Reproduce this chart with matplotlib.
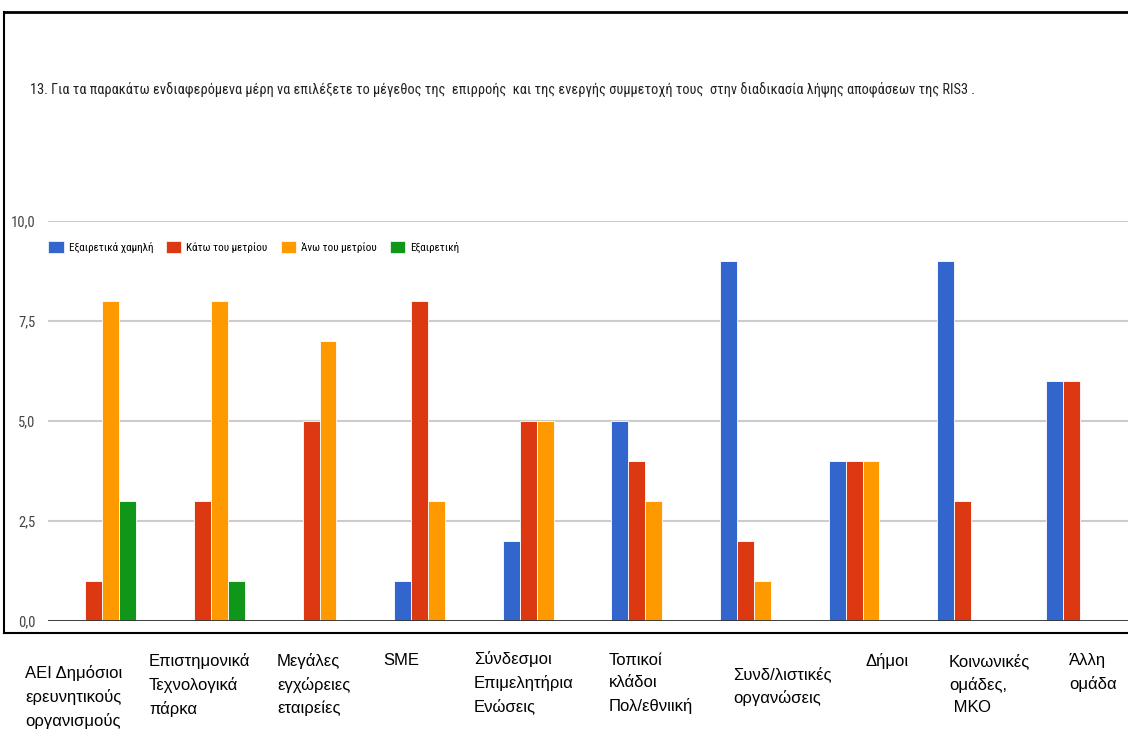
import numpy as np
import matplotlib
matplotlib.use('Agg')
import matplotlib.pyplot as plt
from matplotlib.patches import Patch
from matplotlib.lines import Line2D

# ---------------------------------------------------------------------------- #
#                                     DATA                                     #
# ---------------------------------------------------------------------------- #
title = ('13. Για τα παρακάτω ενδιαφερόμενα μέρη να επιλέξετε το μέγεθος της  '
         'επιρροής  και της ενεργής συμμετοχή τους  στην διαδικασία λήψης '
         'αποφάσεων της RIS3 .')

categories = ['ΑΕΙ Δημόσιοι\nερευνητικούς\nοργανισμούς',
              'Επιστημονικά\nΤεχνολογικά\nπάρκα',
              'Μεγάλες\nεγχώρειες\nεταιρείες',
              'SME',
              'Σύνδεσμοι\nΕπιμελητήρια\nΕνώσεις',
              'Τοπικοί\nκλάδοι\nΠολ/εθνιική',
              'Συνδ/λιστικές\nοργανώσεις',
              'Δήμοι',
              'Κοινωνικές\nομάδες,\n ΜΚΟ',
              'Άλλη\nομάδα']

series_names = ['Εξαιρετικά χαμηλή', 'Κάτω του μετρίου',
                'Άνω του μετρίου', 'Εξαιρετική']
very_low = [0, 0, 0, 1, 2, 5, 9, 4, 9, 6]
below_avg = [1, 3, 5, 8, 5, 4, 2, 4, 3, 6]
above_avg = [8, 8, 7, 3, 5, 3, 1, 4, 0, 0]
excellent = [3, 1, 0, 0, 0, 0, 0, 0, 0, 0]

yticks = [0, 2.5, 5, 7.5, 10]
ytick_labels = ['0,0', '2,5', '5,0', '7,5', '10,0']

# ---------------------------------------------------------------------------- #
#                                     STYLE                                    #
# ---------------------------------------------------------------------------- #
colors = ['#3366cc', '#dc3912', '#ff9900', '#109618']
NARROW = ['Roboto Condensed', 'Liberation Sans Narrow', 'DejaVu Sans']
SANS = ['Liberation Sans', 'Arimo', 'DejaVu Sans']

# label anchors (left, top) in pixels, as placed in the original picture
label_px = [(25, 665), (149, 653), (277, 653), (383, 653), (474, 651),
            (609, 653), (733, 666), (866, 653), (949, 653), (1069, 653)]

W, H = 1128, 729
fig = plt.figure(figsize=(W/100, H/100), dpi=100)
ax = fig.add_axes([48/W, (H-621)/H, (1134-48)/W, 400/H])

x = np.arange(len(categories))
bw = 0.156
series = [very_low, below_avg, above_avg, excellent]
for i, (vals, c) in enumerate(zip(series, colors)):
    ax.bar(x + (i-1.5)*bw, vals, width=bw, color=c, edgecolor='white',
           linewidth=0.6, zorder=3)

ax.set_xlim(-0.5, len(categories)-0.5)
ax.set_ylim(0, 10)
ax.set_yticks(yticks)
ax.set_yticklabels(ytick_labels, fontfamily=NARROW, fontsize=10.5, color='#444444')
ax.set_xticks([])
ax.tick_params(axis='y', length=0, pad=9)
for s in ax.spines.values():
    s.set_visible(False)
ax.grid(axis='y', color='#cccccc', linewidth=1.5, zorder=0)
ax.axhline(0, color='#333333', linewidth=2, zorder=4)

handles = [Patch(facecolor=c, edgecolor='white', linewidth=0.5) for c in colors]
leg = ax.legend(handles, series_names, ncol=4, loc='upper left',
                bbox_to_anchor=(-0.004, 0.962), frameon=False,
                prop={'family': NARROW, 'size': 8},
                handlelength=1.4, handleheight=1.4, handletextpad=0.45,
                columnspacing=1.15, borderaxespad=0.0)

fig.text(30/W, 1-89/H, title, fontfamily=NARROW, fontsize=10.4,
         va='center', ha='left', color='#222222')

# outer frame
fig.add_artist(Line2D([4/W, 1.01], [1-11.5/H, 1-11.5/H], color='black', lw=2))
fig.add_artist(Line2D([4/W, 4/W], [1-11.5/H, 1-633/H], color='black', lw=1.5))
fig.add_artist(Line2D([4/W, 1.01], [1-633/H, 1-633/H], color='black', lw=1.5))

for lab, (px, py) in zip(categories, label_px):
    fig.text(px/W, 1-py/H, lab, fontfamily=SANS, fontsize=12, va='top',
             ha='left', linespacing=1.6, color='black')

fig.savefig('out.png', dpi=100)
